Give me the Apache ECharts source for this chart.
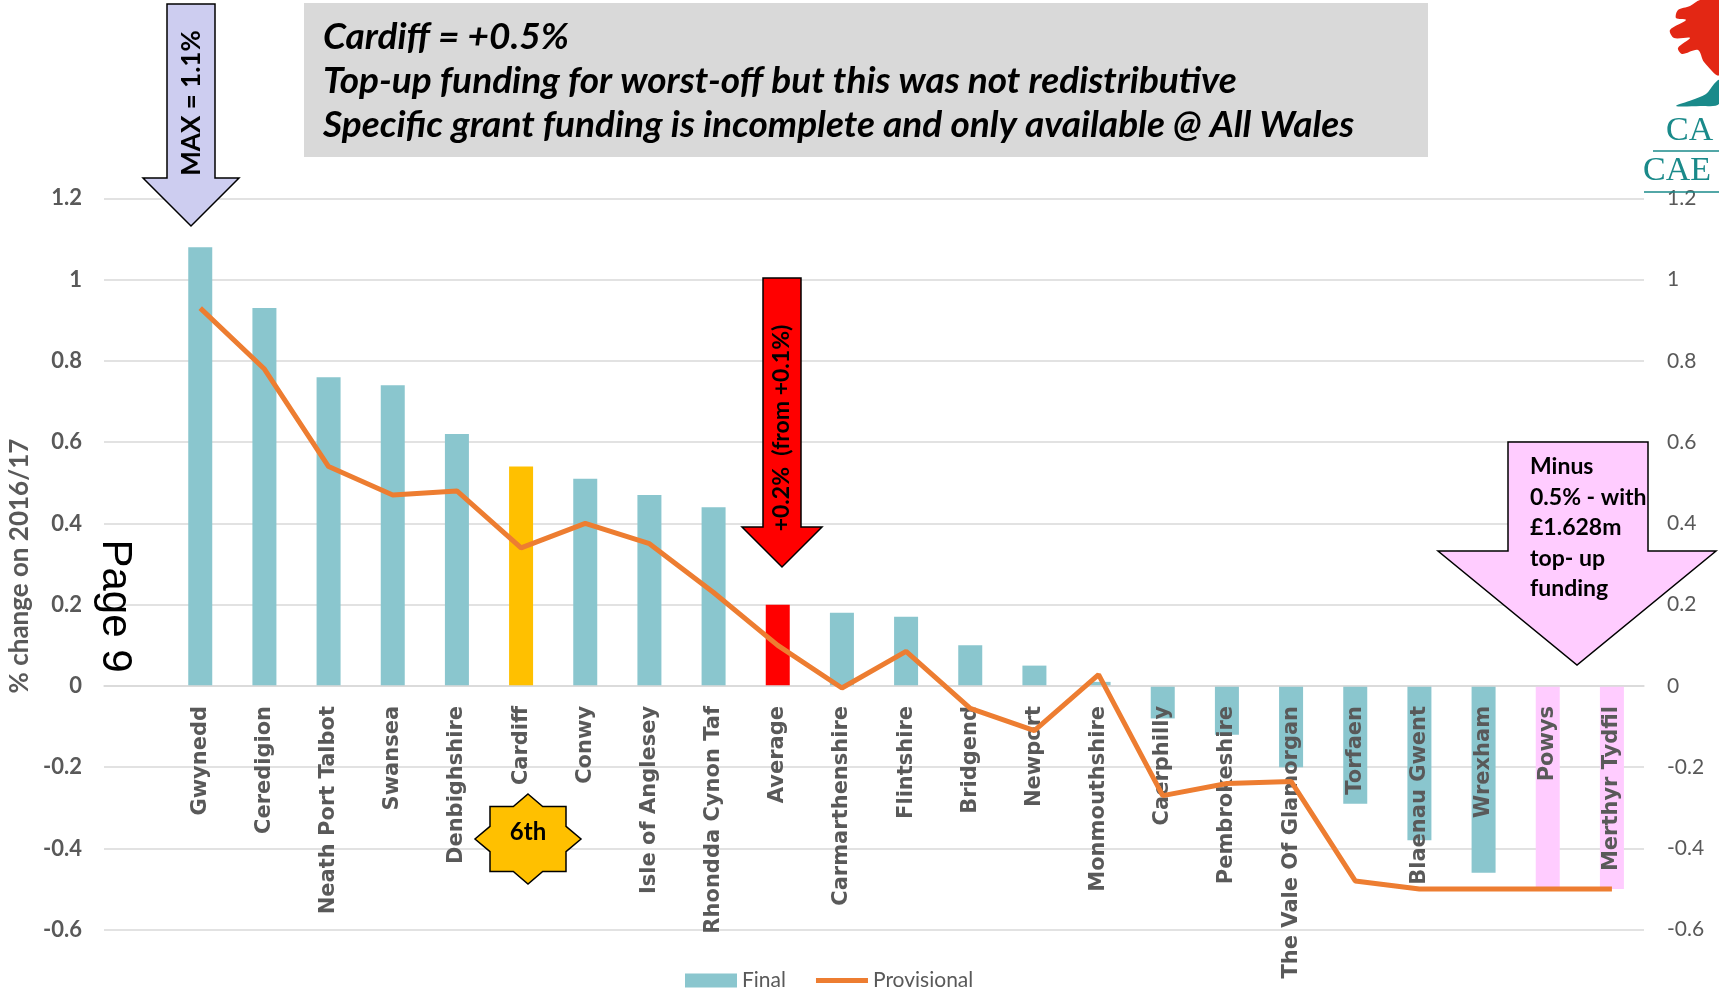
<!DOCTYPE html>
<html>
<head>
<meta charset="utf-8">
<script src="https://cdn.jsdelivr.net/npm/echarts@6/dist/echarts.min.js"></script>
<style>
html,body{margin:0;padding:0;background:#fff;}
#chart{width:1719px;height:990px;}
</style>
</head>
<body>
<div id="chart"></div>
<script>
// ---- data ----
const categories = ['', 'Gwynedd', 'Ceredigion', 'Neath Port Talbot', 'Swansea', 'Denbighshire', 'Cardiff', 'Conwy',
  'Isle of Anglesey', 'Rhondda Cynon Taf', 'Average', 'Carmarthenshire', 'Flintshire', 'Bridgend', 'Newport',
  'Monmouthshire', 'Caerphilly', 'Pembrokeshire', 'The Vale Of Glamorgan', 'Torfaen', 'Blaenau Gwent', 'Wrexham',
  'Powys', 'Merthyr Tydfil'];
const finalValues = ['-', 1.08, 0.93, 0.76, 0.74, 0.62, 0.54, 0.51, 0.47, 0.44, 0.20, 0.18, 0.17, 0.10, 0.05,
  0.01, -0.08, -0.12, -0.20, -0.29, -0.38, -0.46, -0.50, -0.50];
const provisionalValues = ['-', 0.93, 0.78, 0.54, 0.47, 0.48, 0.34, 0.40, 0.35, 0.23, 0.10, -0.005, 0.085, -0.055,
  -0.11, 0.028, -0.27, -0.24, -0.235, -0.48, -0.50, -0.50, -0.50, -0.50];
const yTicks = { min: -0.6, max: 1.2, step: 0.2 };
const seriesNames = ['Final', 'Provisional'];

// ---- styles ----
const baseBar = '#8AC6CE';
const highlight = { 'Cardiff': '#FFC000', 'Average': '#FF0000', 'Powys': '#FFCCFF', 'Merthyr Tydfil': '#FFCCFF' };
const grey = '#595959';

const W = 1719, H = 990;
const gridBox = { left: 104, right: 75, top: 198.4, bottom: 60.3 };
const plotH = H - gridBox.top - gridBox.bottom;
// move the category axis up to the zero line
const zeroOffset = -plotH * (0 - yTicks.min) / (yTicks.max - yTicks.min);

const chart = echarts.init(document.getElementById('chart'), null, { renderer: 'canvas' });

const barData = finalValues.map((v, i) => ({
  value: v,
  itemStyle: { color: highlight[categories[i]] || baseBar }
}));

// 8-point star
function star(cx, cy) {
  const pts = [[0,-45],[14.7,-32.5],[38,-32.5],[38,-12.7],[53,0],[38,12.7],[38,32.5],[14.7,32.5],
    [0,45],[-14.7,32.5],[-38,32.5],[-38,12.7],[-53,0],[-38,-12.7],[-38,-32.5],[-14.7,-32.5]];
  return pts.map(p => [cx + p[0], cy + p[1]]);
}

const titleFont = 'italic bold 37px Lato';
const pinkFont = 'bold 23px Lato';

const option = {
  animation: false,
  backgroundColor: '#ffffff',
  grid: Object.assign({ containLabel: false, outerBoundsMode: 'none' }, gridBox),
  legend: {
    data: [
      { name: 'Final', icon: 'rect' },
      { name: 'Provisional', icon: 'path://M0,0 L52,0 L52,5 L0,5 Z' }
    ],
    top: 965,
    left: 680,
    itemWidth: 52,
    itemHeight: 14,
    itemGap: 30,
    textStyle: { color: grey, fontFamily: 'Lato', fontSize: 21 }
  },
  xAxis: {
    type: 'category',
    data: categories,
    z: 3,
    offset: zeroOffset,
    axisTick: { show: false },
    axisLine: { onZero: false, lineStyle: { color: '#D9D9D9', width: 1.5 } },
    axisLabel: {
      rotate: 90,
      interval: 0,
      margin: 20,
      color: grey,
      fontFamily: 'DejaVu Sans',
      fontWeight: 'bold',
      fontSize: 21
    }
  },
  yAxis: [
    {
      type: 'value',
      min: yTicks.min, max: yTicks.max, interval: yTicks.step,
      axisLine: { show: false }, axisTick: { show: false },
      splitLine: { lineStyle: { color: '#D9D9D9', width: 1.5 } },
      axisLabel: { margin: 22, color: grey, fontFamily: 'Lato', fontWeight: 'bold', fontSize: 22 }
    },
    {
      type: 'value', position: 'right',
      min: yTicks.min, max: yTicks.max, interval: yTicks.step,
      axisLine: { show: false }, axisTick: { show: false },
      splitLine: { show: false },
      axisLabel: { margin: 23, color: grey, fontFamily: 'Lato', fontSize: 21 }
    }
  ],
  series: [
    {
      name: seriesNames[0],
      type: 'bar',
      data: barData,
      barWidth: 24,
      itemStyle: { color: baseBar },
      z: 2
    },
    {
      name: seriesNames[1],
      type: 'line',
      data: provisionalValues,
      symbol: 'none',
      lineStyle: { color: '#ED7D31', width: 5 },
      itemStyle: { color: '#ED7D31' },
      z: 5
    }
  ],
  graphic: [
    // title box
    { type: 'rect', shape: { x: 304, y: 3, width: 1124, height: 154 }, style: { fill: '#D9D9D9' }, z: 10 },
    { type: 'text', x: 323, y: 37, z: 11, style: { text: 'Cardiff = +0.5%', fill: '#000', font: titleFont, verticalAlign: 'middle' } },
    { type: 'text', x: 323, y: 81, z: 11, style: { text: 'Top-up funding for worst-off but this was not redistributive', fill: '#000', font: titleFont, verticalAlign: 'middle' } },
    { type: 'text', x: 323, y: 125, z: 11, style: { text: 'Specific grant funding is incomplete and only available @ All Wales', fill: '#000', font: titleFont, verticalAlign: 'middle' } },
    // MAX arrow
    { type: 'polygon', z: 10, shape: { points: [[167,4],[215,4],[215,178],[239,178],[191,226],[143,178],[167,178]] },
      style: { fill: '#CDCDF0', stroke: '#000', lineWidth: 1.5 } },
    { type: 'text', z: 11, x: 192, y: 103, rotation: Math.PI / 2,
      style: { text: 'MAX = 1.1%', fill: '#000', font: 'bold 26px Lato', align: 'center', verticalAlign: 'middle' } },
    // red arrow
    { type: 'polygon', z: 10, shape: { points: [[763,278],[801,278],[801,527],[822,527],[782,567],[742,527],[763,527]] },
      style: { fill: '#FF0000', stroke: '#000', lineWidth: 1.5 } },
    { type: 'text', z: 11, x: 782, y: 428, rotation: Math.PI / 2,
      style: { text: '+0.2%  (from +0.1%)', fill: '#000', font: 'bold 23px Lato', align: 'center', verticalAlign: 'middle' } },
    // pink arrow
    { type: 'polygon', z: 10, shape: { points: [[1508,442],[1648,442],[1648,551],[1716,551],[1577,665],[1438,551],[1508,551]] },
      style: { fill: '#FFCCFF', stroke: '#000', lineWidth: 1.5 } },
    { type: 'text', z: 11, x: 1530, y: 467, style: { text: 'Minus', fill: '#000', font: pinkFont, verticalAlign: 'middle' } },
    { type: 'text', z: 11, x: 1530, y: 498, style: { text: '0.5% - with', fill: '#000', font: pinkFont, verticalAlign: 'middle' } },
    { type: 'text', z: 11, x: 1530, y: 528, style: { text: '£1.628m', fill: '#000', font: pinkFont, verticalAlign: 'middle' } },
    { type: 'text', z: 11, x: 1530, y: 559, style: { text: 'top- up', fill: '#000', font: pinkFont, verticalAlign: 'middle' } },
    { type: 'text', z: 11, x: 1530, y: 589, style: { text: 'funding', fill: '#000', font: pinkFont, verticalAlign: 'middle' } },
    // star
    { type: 'polygon', z: 10, shape: { points: star(528, 839) }, style: { fill: '#FFC000', stroke: '#000', lineWidth: 1.5 } },
    { type: 'text', z: 11, x: 528, y: 832, style: { text: '6th', fill: '#000', font: 'bold 24px Lato', align: 'center', verticalAlign: 'middle' } },
    // y axis title
    { type: 'text', z: 11, x: 20, y: 566, rotation: Math.PI / 2,
      style: { text: '% change on 2016/17', fill: grey, font: 'bold 26px Lato', align: 'center', verticalAlign: 'middle' } },
    // Page 9
    { type: 'text', z: 11, x: 115, y: 606, rotation: -Math.PI / 2,
      style: { text: 'Page 9', fill: '#000', font: '42px "Liberation Sans"', align: 'center', verticalAlign: 'middle' } },
    // logo (partial, simplified)
    { type: 'polygon', z: 10, shape: { smooth: 0.3, points: [[1700,0],[1690,6],[1678,10],[1676,18],[1686,20],[1670,30],[1674,38],[1690,38],[1678,48],[1682,54],[1698,50],[1704,62],[1719,75],[1719,0]] },
      style: { fill: '#E32714' } },
    { type: 'polygon', z: 10, shape: { smooth: 0.3, points: [[1676,106],[1692,100],[1706,94],[1714,84],[1719,80],[1719,104],[1700,106]] },
      style: { fill: '#1A8A8A' } },
    { type: 'text', z: 11, x: 1666, y: 148, style: { text: 'CA', fill: '#1A8A8A', font: '34px "Liberation Serif"', verticalAlign: 'bottom' } },
    { type: 'line', z: 11, shape: { x1: 1653, y1: 151, x2: 1719, y2: 151 }, style: { stroke: '#1A8A8A', lineWidth: 1.5 } },
    { type: 'text', z: 11, x: 1643, y: 188, style: { text: 'CAE', fill: '#1A8A8A', font: '34px "Liberation Serif"', verticalAlign: 'bottom' } },
    { type: 'line', z: 11, shape: { x1: 1644, y1: 192, x2: 1719, y2: 192 }, style: { stroke: '#1A8A8A', lineWidth: 1.5 } }
  ]
};

chart.setOption(option);
</script>
</body>
</html>
